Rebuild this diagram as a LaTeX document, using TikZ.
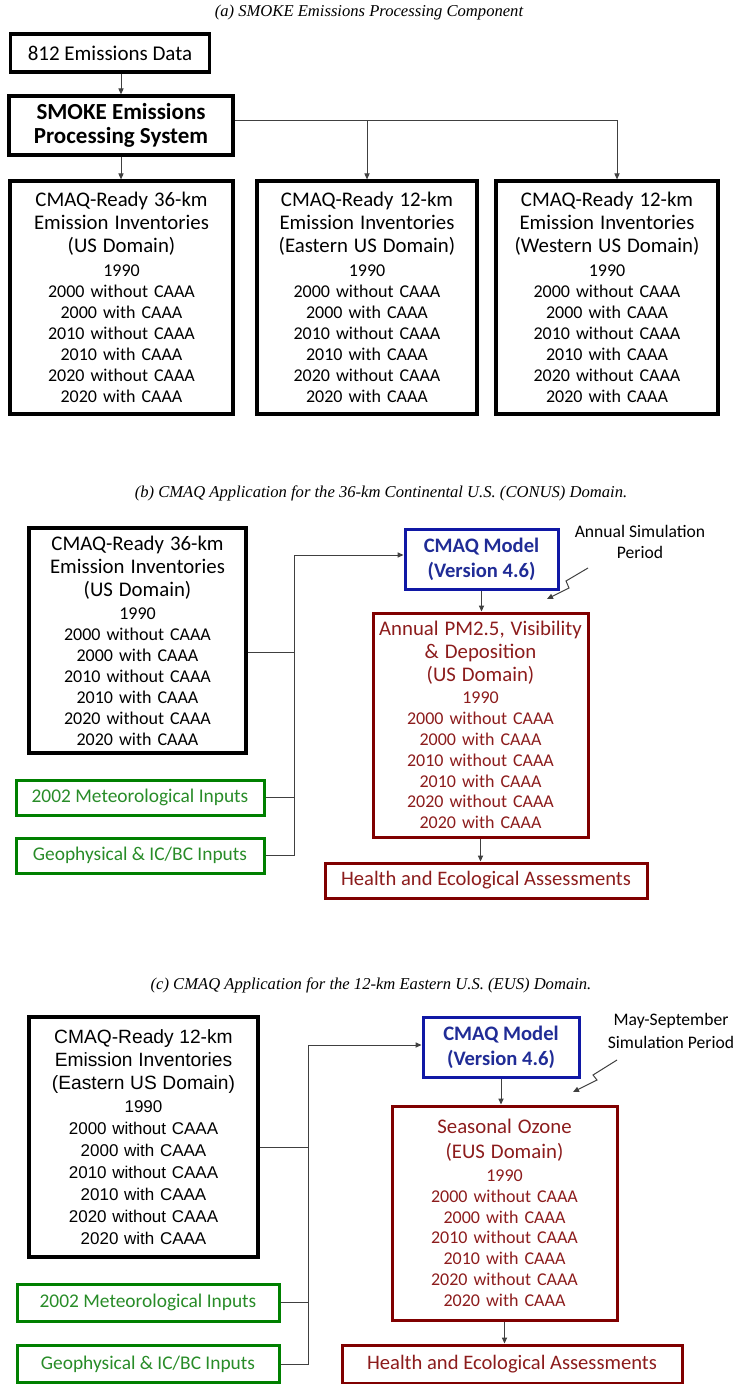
\documentclass[tikz,border=0pt]{standalone}
\usepackage{fontspec}
\setmainfont{Carlito}
\newfontfamily\arialfont{Liberation Sans}
\newfontfamily\capfont{Liberation Serif}
\usetikzlibrary{arrows.meta}
\definecolor{cmaqblue}{RGB}{16,24,165}
\definecolor{bluetext}{RGB}{32,44,150}
\definecolor{darkred}{RGB}{128,0,0}
\definecolor{redtext}{RGB}{140,28,28}
\definecolor{darkgreen}{RGB}{0,128,0}
\definecolor{greentext}{RGB}{40,140,40}
\newcommand{\invhead}{\fontsize{10.4}{11}\selectfont}
\newcommand{\arialhead}{\fontsize{9.6}{11}\selectfont}
\newcommand{\yearlist}{1990\\2000 without CAAA\\2000 with CAAA\\2010 without CAAA\\2010 with CAAA\\2020 without CAAA\\2020 with CAAA}

\begin{document}
\begin{tikzpicture}[x=0.5pt,y=-0.5pt]
        \tikzstyle{every node}+=[inner sep=0pt]
        \tikzstyle{figcap}=[font=\capfont\itshape\fontsize{8.3}{10}\selectfont]
        \tikzstyle{box}=[draw=black,line width=1.6pt,align=center,font=\fontsize{9}{10.5}\selectfont]
        \tikzstyle{inv}=[box,text width=104pt]
        \tikzstyle{bluebox}=[draw=cmaqblue,line width=1.5pt,text=bluetext,align=center,font=\fontsize{10.3}{12.5}\selectfont\bfseries]
        \tikzstyle{redbox}=[draw=darkred,line width=1.5pt,text=redtext,align=center,text width=104pt,font=\fontsize{9}{10.4}\selectfont]
        \tikzstyle{greenbox}=[draw=darkgreen,line width=1.5pt,text=greentext,font=\fontsize{9.7}{11}\selectfont]
        \tikzstyle{simnote}=[align=center,font=\fontsize{8.8}{10.5}\selectfont]
        \tikzstyle{link}=[draw=black!75,line width=0.5pt]
        \tikzstyle{arr}=[link,-{Triangle[length=3pt,width=2.6pt]}]
        \useasboundingbox (0,0) rectangle (739,1384);
        \node[figcap] (capa) at (369,13) {(a) SMOKE Emissions Processing Component};
        \node[box,font=\fontsize{10.5}{12}\selectfont,minimum width=99.5pt,minimum height=19pt] (ems) at (110,53) {812 Emissions Data};
        \node[box,font=\fontsize{11.5}{12}\selectfont\bfseries,minimum width=112pt,minimum height=29.5pt] (smoke) at (121,125.5) {SMOKE Emissions\\Processing System};
        \node[inv,minimum width=111.5pt,minimum height=116.5pt] (inv1) at (121.5,297.5) {{\invhead CMAQ-Ready 36-km}\\[1pt]{\invhead Emission Inventories}\\[1pt]{\invhead (US Domain)}\\[1.5pt]\yearlist};
        \node[inv,minimum width=110pt,minimum height=116.5pt] (inv2) at (367,297.5) {{\invhead CMAQ-Ready 12-km}\\[1pt]{\invhead Emission Inventories}\\[1pt]{\invhead (Eastern US Domain)}\\[1.5pt]\yearlist};
        \node[inv,minimum width=111pt,minimum height=116.5pt] (inv3) at (607,297.5) {{\invhead CMAQ-Ready 12-km}\\[1pt]{\invhead Emission Inventories}\\[1pt]{\invhead (Western US Domain)}\\[1.5pt]\yearlist};
        \coordinate (busa) at ([yshift=2.25pt]smoke.east);
        \draw[arr] (ems.south -| smoke.north) -- (smoke.north);
        \draw[arr] (smoke.south) -- (smoke.south |- inv1.north);
        \draw[arr] (busa) -| ([xshift=5pt]inv3.north);
        \draw[arr] (busa -| inv2.north) -- (inv2.north);

        \node[figcap] (capb) at (381,493) {(b) CMAQ Application for the 36-km Continental U.S. (CONUS) Domain.};
        \node[inv,minimum width=108.5pt,minimum height=112.5pt] (inv36) at (137.5,640.5) {{\invhead CMAQ-Ready 36-km}\\[1pt]{\invhead Emission Inventories}\\[1pt]{\invhead (US Domain)}\\[1pt]\yearlist};
        \node[greenbox,minimum width=124pt,minimum height=17.5pt] (met1) at (140,797.5) {2002 Meteorological Inputs};
        \node[greenbox,minimum width=124pt,minimum height=17.5pt] (geo1) at (140,855.5) {Geophysical \& IC/BC Inputs};
        \node[bluebox,minimum width=76.5pt,minimum height=30pt] (cmaq1) at (481.5,559) {CMAQ Model\\(Version 4.6)};
        \node[redbox,minimum width=107.5pt,minimum height=112pt] (pm) at (480.5,725) {{\invhead Annual PM2.5, Visibility}\\[1pt]{\invhead \& Deposition}\\[1pt]{\invhead (US Domain)}\\[1pt]\yearlist};
        \node[redbox,text width={},font=\fontsize{10.3}{12}\selectfont,minimum width=161pt,minimum height=17.5pt] (health1) at (486,880.5) {Health and Ecological Assessments};
        \node[simnote] (note1) at (640,542) {Annual Simulation\\Period};
        \coordinate (trunkb) at (294,555);
        \draw[arr] (geo1.east) -| (trunkb) -- (trunkb -| cmaq1.west);
        \draw[link] (met1.east) -- (met1.east -| trunkb);
        \draw[link] ([yshift=-5.75pt]inv36.east) -- ([yshift=-5.75pt]inv36.east -| trunkb);
        \draw[arr] (cmaq1.south) -- (cmaq1.south |- pm.north);
        \draw[arr] (pm.south) -- (pm.south |- health1.north);
        \coordinate (bolt1a) at (588,568);
        \coordinate (bolt1b) at (566,581);
        \coordinate (bolt1c) at (569,588);
        \coordinate (bolt1d) at (547,599);
        \draw[arr] (bolt1a) -- (bolt1b) -- (bolt1c) -- (bolt1d);

        \node[figcap] (capc) at (371,985) {(c) CMAQ Application for the 12-km Eastern U.S. (EUS) Domain.};
        \node[inv,font=\arialfont\fontsize{8.5}{11}\selectfont,text width=110pt,minimum width=114.5pt,minimum height=120pt] (inv12) at (143.5,1137) {{\arialhead CMAQ-Ready 12-km}\\[0.5pt]{\arialhead Emission Inventories}\\[0.5pt]{\arialhead (Eastern US Domain)}\\[0.5pt]\yearlist};
        \node[greenbox,minimum width=131pt,minimum height=18.5pt] (met2) at (148,1302.5) {2002 Meteorological Inputs};
        \node[greenbox,minimum width=131pt,minimum height=18.5pt] (geo2) at (148,1364) {Geophysical \& IC/BC Inputs};
        \node[bluebox,minimum width=78pt,minimum height=30pt] (cmaq2) at (501,1047) {CMAQ Model\\(Version 4.6)};
        \node[redbox,minimum width=112.5pt,minimum height=107pt] (ozone) at (504.5,1213) {{\invhead Seasonal Ozone}\\[2pt]{\invhead (EUS Domain)}\\[1pt]\yearlist};
        \node[redbox,text width={},font=\fontsize{10.3}{12}\selectfont,minimum width=170pt,minimum height=19pt] (health2) at (512,1364) {Health and Ecological Assessments};
        \node[simnote,font=\fontsize{8.8}{11.5}\selectfont] (note2) at (671,1031) {May-September\\Simulation Period};
        \coordinate (trunkc) at (308,1045);
        \draw[arr] (geo2.east) -| (trunkc) -- (trunkc -| cmaq2.west);
        \draw[link] (met2.east) -- (met2.east -| trunkc);
        \draw[link] ([yshift=-5pt]inv12.east) -- ([yshift=-5pt]inv12.east -| trunkc);
        \draw[arr] (cmaq2.south) -- (cmaq2.south |- ozone.north);
        \draw[arr] (ozone.south) -- (ozone.south |- health2.north);
        \coordinate (bolt2a) at (617,1060);
        \coordinate (bolt2b) at (593,1075);
        \coordinate (bolt2c) at (597,1080);
        \coordinate (bolt2d) at (573,1092);
        \draw[arr] (bolt2a) -- (bolt2b) -- (bolt2c) -- (bolt2d);
      \end{tikzpicture}
\end{document}
